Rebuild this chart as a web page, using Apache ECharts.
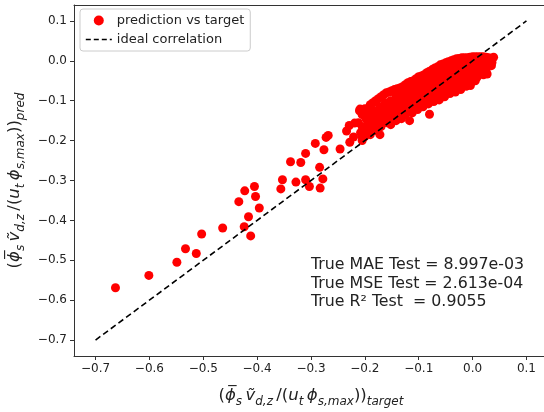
<!DOCTYPE html>
<html>
<head>
<meta charset="utf-8">
<script src="https://cdn.jsdelivr.net/npm/echarts@6/dist/echarts.min.js"></script>
<style>
  html, body { margin: 0; padding: 0; background: #fff; overflow: hidden; }
  #chart { width: 544px; height: 412px; }
</style>
</head>
<body>
<div id="chart"></div>
<script>
// tick positions shared by both axes
const tickValues = [-0.7, -0.6, -0.5, -0.4, -0.3, -0.2, -0.1, 0.0, 0.1];

// ideal correlation line end points (y = x)
const idealX = [-0.7, 0.1];

// sparse scatter points (target, pred)
const sparsePoints = [
  [-0.663, -0.569], [-0.601, -0.538], [-0.549, -0.505], [-0.533, -0.471],
  [-0.513, -0.483], [-0.503, -0.434], [-0.464, -0.419], [-0.434, -0.353],
  [-0.423, -0.326], [-0.405, -0.315], [-0.403, -0.340], [-0.416, -0.391],
  [-0.424, -0.416], [-0.412, -0.439], [-0.396, -0.369],
  [-0.356, -0.321], [-0.353, -0.298], [-0.338, -0.253], [-0.319, -0.255],
  [-0.310, -0.232], [-0.328, -0.304], [-0.310, -0.298], [-0.303, -0.315],
  [-0.283, -0.319], [-0.278, -0.296], [-0.284, -0.267], [-0.276, -0.223],
  [-0.292, -0.207], [-0.272, -0.192], [-0.268, -0.187], [-0.246, -0.221],
  [-0.228, -0.204], [-0.234, -0.176], [-0.229, -0.162], [-0.219, -0.156],
  [-0.221, -0.191], [-0.209, -0.121], [-0.200, -0.166], [-0.196, -0.179]
];

// dense cluster points (target, pred)
const densePoints = [
  [-0.21, -0.125], [-0.212, -0.155], [-0.208, -0.18], [-0.205, -0.2],
  [-0.20, -0.12], [-0.198, -0.145], [-0.202, -0.17], [-0.20, -0.19],
  [-0.19, -0.11], [-0.192, -0.135], [-0.188, -0.16], [-0.19, -0.185],
  [-0.18, -0.10], [-0.182, -0.125], [-0.178, -0.15], [-0.18, -0.175],
  [-0.17, -0.09], [-0.172, -0.115], [-0.168, -0.14], [-0.17, -0.165], [-0.172, -0.185],
  [-0.16, -0.08], [-0.162, -0.105], [-0.158, -0.13], [-0.16, -0.155],
  [-0.15, -0.075], [-0.152, -0.10], [-0.148, -0.12], [-0.15, -0.145], [-0.152, -0.16],
  [-0.14, -0.07], [-0.142, -0.09], [-0.138, -0.11], [-0.14, -0.135], [-0.142, -0.15],
  [-0.13, -0.065], [-0.132, -0.085], [-0.128, -0.105], [-0.13, -0.125], [-0.132, -0.145],
  [-0.12, -0.055], [-0.122, -0.078], [-0.118, -0.10], [-0.12, -0.12], [-0.117, -0.15],
  [-0.11, -0.05], [-0.112, -0.07], [-0.108, -0.09], [-0.11, -0.115], [-0.112, -0.13],
  [-0.10, -0.04], [-0.102, -0.062], [-0.098, -0.085], [-0.10, -0.105], [-0.102, -0.122],
  [-0.09, -0.035], [-0.092, -0.055], [-0.088, -0.075], [-0.09, -0.098], [-0.092, -0.115],
  [-0.081, -0.027], [-0.082, -0.048], [-0.078, -0.07], [-0.08, -0.09], [-0.08, -0.134], [-0.082, -0.108],
  [-0.07, -0.018], [-0.072, -0.04], [-0.068, -0.062], [-0.07, -0.085], [-0.072, -0.102],
  [-0.06, -0.01], [-0.062, -0.032], [-0.058, -0.055], [-0.06, -0.078], [-0.062, -0.098],
  [-0.05, -0.005], [-0.052, -0.025], [-0.048, -0.048], [-0.05, -0.07], [-0.052, -0.09],
  [-0.04, 0.0], [-0.042, -0.02], [-0.038, -0.042], [-0.04, -0.065], [-0.042, -0.082],
  [-0.03, 0.005], [-0.032, -0.015], [-0.028, -0.035], [-0.03, -0.058], [-0.032, -0.078],
  [-0.02, 0.008], [-0.022, -0.01], [-0.018, -0.03], [-0.02, -0.052], [-0.022, -0.072],
  [-0.01, 0.008], [-0.012, -0.008], [-0.008, -0.025], [-0.01, -0.045], [-0.012, -0.064],
  [0.0, 0.01], [-0.002, -0.005], [0.002, -0.022], [0.0, -0.04], [-0.004, -0.062],
  [0.01, 0.01], [0.008, -0.005], [0.012, -0.02], [0.008, -0.042],
  [0.02, 0.01], [0.018, -0.005], [0.022, -0.02], [0.02, -0.035],
  [0.03, 0.008], [0.028, -0.008], [0.027, -0.033],
  [0.039, 0.009], [0.036, -0.004],
  // in-between points filling the band
  [-0.205, -0.135], [-0.205, -0.165], [-0.205, -0.19],
  [-0.195, -0.12], [-0.195, -0.15], [-0.195, -0.175],
  [-0.185, -0.105], [-0.185, -0.14], [-0.185, -0.165],
  [-0.175, -0.095], [-0.175, -0.13], [-0.175, -0.16],
  [-0.165, -0.085], [-0.165, -0.12], [-0.165, -0.15],
  [-0.155, -0.078], [-0.155, -0.11], [-0.155, -0.14],
  [-0.145, -0.072], [-0.145, -0.10], [-0.145, -0.13],
  [-0.135, -0.068], [-0.135, -0.095], [-0.135, -0.12], [-0.135, -0.14],
  [-0.125, -0.06], [-0.125, -0.09], [-0.125, -0.112], [-0.125, -0.135],
  [-0.115, -0.052], [-0.115, -0.08], [-0.115, -0.105], [-0.115, -0.125],
  [-0.105, -0.045], [-0.105, -0.072], [-0.105, -0.095], [-0.105, -0.115],
  [-0.095, -0.038], [-0.095, -0.065], [-0.095, -0.088], [-0.095, -0.108],
  [-0.085, -0.03], [-0.085, -0.058], [-0.085, -0.08], [-0.085, -0.10],
  [-0.075, -0.022], [-0.075, -0.05], [-0.075, -0.075], [-0.075, -0.095],
  [-0.065, -0.015], [-0.065, -0.045], [-0.065, -0.07], [-0.065, -0.09],
  [-0.055, -0.008], [-0.055, -0.035], [-0.055, -0.06], [-0.055, -0.082],
  [-0.045, -0.002], [-0.045, -0.03], [-0.045, -0.055], [-0.045, -0.075],
  [-0.035, 0.003], [-0.035, -0.025], [-0.035, -0.048], [-0.035, -0.07],
  [-0.025, 0.006], [-0.025, -0.02], [-0.025, -0.042], [-0.025, -0.064],
  [-0.015, 0.008], [-0.015, -0.016], [-0.015, -0.036], [-0.015, -0.056],
  [-0.005, 0.009], [-0.005, -0.014], [-0.005, -0.03], [-0.005, -0.05],
  [0.005, 0.01], [0.005, -0.012], [0.005, -0.03], [0.005, -0.05],
  [0.015, 0.01], [0.015, -0.012], [0.015, -0.028],
  [0.025, 0.009], [0.025, -0.012], [0.025, -0.025],
  [0.035, 0.006], [0.035, -0.012]
];

const statLines = [
  'True MAE Test = 8.997e-03',
  'True MSE Test = 2.613e-04',
  'True R\u00b2 Test  = 0.9055'
];

const fontFamily = 'DejaVu Sans';
const fmtTick = (v) => Number(v).toFixed(1).replace('-', '\u2212');

// rich text styles for the math axis names
const rich = {
  n: { fontSize: 16.5, fontFamily, color: '#222', lineHeight: 24, verticalAlign: 'middle' },
  i: { fontSize: 16.5, fontFamily, fontStyle: 'italic', color: '#222', lineHeight: 24, verticalAlign: 'middle' },
  s: { fontSize: 12, fontFamily, fontStyle: 'italic', color: '#222', lineHeight: 24, verticalAlign: 'bottom' }
};
const phiBar = '\u03d5\u0305';
const vTilde = 'v\u0303';
const nameBody = `{n|(}{i|${phiBar}}{s|s} {i|${vTilde}}{s|d,z} {n|/(}{i|u}{s|t} {i|\u03d5}{s|s,max}{n|))}`;

const spine = { onZero: false, lineStyle: { color: '#333', width: 1 } };

const chart = echarts.init(document.getElementById('chart'));
chart.setOption({
  animation: false,
  backgroundColor: '#fff',
  grid: {
    left: 74, top: 5, right: -4, bottom: 56,
    outerBoundsMode: 'none'
  },
  legend: {
    left: 80, top: 9, orient: 'vertical',
    backgroundColor: 'rgba(255,255,255,0.8)',
    borderColor: '#cccccc', borderWidth: 1, borderRadius: 3,
    padding: [5, 6, 5, 5], itemGap: 6,
    itemWidth: 26, itemHeight: 10,
    textStyle: { fontSize: 13, fontFamily, color: '#222' },
    data: [
      { name: 'prediction vs target', icon: 'circle' },
      {
        name: 'ideal correlation',
        itemStyle: { opacity: 0 },
        lineStyle: { color: '#000', width: 1.6, type: [5, 3] }
      }
    ]
  },
  xAxis: [
    {
      type: 'value', min: -0.74, max: 0.14,
      name: nameBody + '{s|target}',
      nameLocation: 'middle', nameGap: 28,
      nameTextStyle: { rich },
      axisLine: spine,
      axisTick: { show: true, length: 4, customValues: tickValues, lineStyle: { color: '#333' } },
      axisLabel: { customValues: tickValues, formatter: fmtTick, fontSize: 12, fontFamily, color: '#222', margin: 7 },
      splitLine: { show: false }
    },
    {
      // top spine only
      type: 'value', position: 'top', min: -0.74, max: 0.14,
      axisLine: spine, axisTick: { show: false }, axisLabel: { show: false }, splitLine: { show: false }
    }
  ],
  yAxis: {
    type: 'value', min: -0.74, max: 0.14,
    name: nameBody + '{s|pred}',
    nameLocation: 'middle', nameGap: 44, nameRotate: 90,
    nameTextStyle: { rich },
    axisLine: { show: true, ...spine },
    axisTick: { show: true, length: 4, customValues: tickValues, lineStyle: { color: '#333' } },
    axisLabel: { customValues: tickValues, formatter: fmtTick, fontSize: 12, fontFamily, color: '#222', margin: 7 },
    splitLine: { show: false }
  },
  series: [
    {
      name: 'prediction vs target',
      type: 'scatter',
      symbol: 'circle',
      symbolSize: 9,
      itemStyle: { color: '#ff0000', opacity: 1 },
      data: sparsePoints.concat(densePoints),
      z: 2
    },
    {
      name: 'ideal correlation',
      type: 'line',
      symbol: 'none',
      data: idealX.map((v) => [v, v]),
      itemStyle: { color: '#000' },
      lineStyle: { color: '#000', width: 1.6, type: [6, 3.5] },
      z: 3
    }
  ],
  graphic: statLines.map((t, k) => ({
    type: 'text',
    left: 311,
    top: 257 + k * 18.6,
    style: { text: t, font: `15.8px "${fontFamily}"`, fill: '#222' }
  }))
});
</script>
</body>
</html>
